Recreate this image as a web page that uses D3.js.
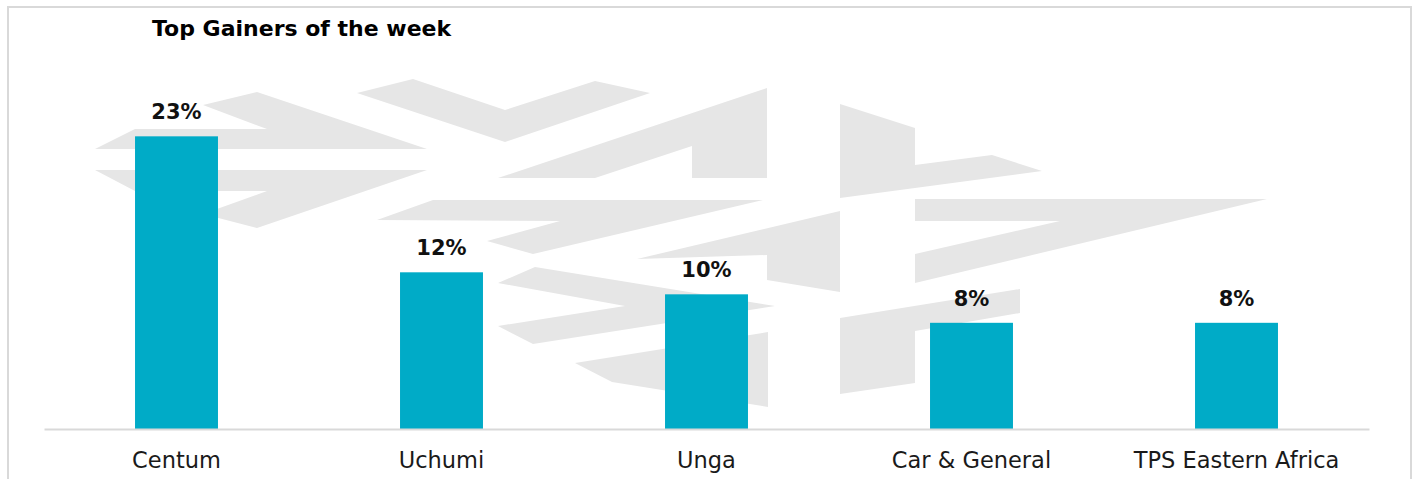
<!DOCTYPE html>
<html>
<head>
<meta charset="utf-8">
<script src="https://cdn.jsdelivr.net/npm/d3@7"></script>
<style>
  html, body { margin: 0; padding: 0; background: #ffffff; }
  svg { display: block; }
</style>
</head>
<body>
<svg id="chart" width="1417" height="479"></svg>
<script>
// ---- data ----
const categories = ["Centum", "Uchumi", "Unga", "Car & General", "TPS Eastern Africa"];
const gains = [0.226, 0.121, 0.104, 0.082, 0.082];
const title = "Top Gainers of the week";

// ---- decorative background logo (watermark), not data ----
const watermark = [
  [[95,149],[135,129],[267,129],[203,105],[257,92],[427,149]],
  [[95,170],[427,170],[257,228],[203,214],[267,191],[135,191]],
  [[357,93],[413,79],[505,110],[595,81],[650,93],[505,142]],
  [[498,178],[767,88],[767,178],[692,178],[692,146],[595,178]],
  [[377,220],[433,200],[763,200],[533,254],[487,241],[560,221]],
  [[637,259],[840,211],[840,292],[767,280],[767,255]],
  [[498,283],[535,267],[775,306],[533,344],[498,326],[625,306]],
  [[575,363],[768,332],[768,407],[612,382]],
  [[840,104],[915,128],[915,165],[992,155],[1042,171],[840,198]],
  [[915,199],[1267,199],[915,283],[915,254],[1060,221],[915,221]],
  [[840,318],[1020,289],[1020,313],[915,331],[915,383],[840,394]]
];

const svg = d3.select("#chart");
const font = "'DejaVu Sans', Verdana, sans-serif";

// frame
svg.append("rect")
  .attr("x", 8).attr("y", 7).attr("width", 1403).attr("height", 490)
  .attr("fill", "#ffffff").attr("stroke", "#d9d9d9").attr("stroke-width", 2);

// watermark
svg.append("g").selectAll("polygon").data(watermark).join("polygon")
  .attr("points", d => d.map(p => p.join(",")).join(" "))
  .attr("fill", "#e6e6e6");

const x = d3.scaleBand().domain(categories).range([44, 1369])
  .paddingInner(0.687).paddingOuter(0.3435);
const y = d3.scaleLinear().domain([0, 0.25]).range([429, 105.25]);

// bars
svg.append("g").selectAll("rect").data(categories).join("rect")
  .attr("x", d => x(d))
  .attr("y", (d, i) => y(gains[i]))
  .attr("width", x.bandwidth())
  .attr("height", (d, i) => y(0) - y(gains[i]))
  .attr("fill", "#00abc7");

// baseline axis
const xAxis = d3.axisBottom(x).tickSize(0).tickPadding(30);
const gx = svg.append("g").attr("transform", `translate(0,${y(0)})`).call(xAxis);
gx.select(".domain").attr("stroke", "#d9d9d9").attr("stroke-width", 2);
gx.selectAll(".tick text")
  .attr("font-family", font).attr("font-size", 22.5).attr("fill", "#1a1a1a")
  .attr("dy", 0).attr("y", 39);

// data labels
const fmt = d3.format(".0%");
svg.append("g").selectAll("text").data(categories).join("text")
  .attr("x", d => x(d) + x.bandwidth() / 2)
  .attr("y", (d, i) => y(gains[i]) - 17)
  .attr("text-anchor", "middle")
  .attr("font-family", font).attr("font-weight", "bold").attr("font-size", 21)
  .attr("fill", "#111")
  .text((d, i) => fmt(gains[i]));

// title
svg.append("text")
  .attr("x", 152).attr("y", 36)
  .attr("font-family", font).attr("font-weight", "bold").attr("font-size", 22)
  .attr("fill", "#000")
  .text(title);
</script>
</body>
</html>
